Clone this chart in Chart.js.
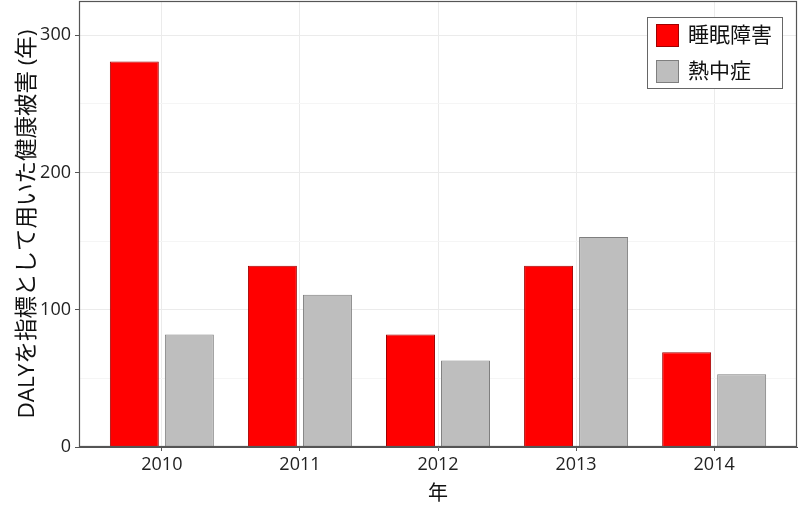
<!DOCTYPE html>
<html>
<head>
<meta charset="utf-8">
<script src="https://cdn.jsdelivr.net/npm/chart.js@4"></script>
<style>
	html, body { margin: 0; padding: 0; background: #ffffff; }
	#wrap { width: 800px; height: 514px; }
</style>
</head>
<body>
<div id="wrap"><canvas id="dalyChart" width="800" height="514"></canvas></div>
<script>
var years = [2010, 2011, 2012, 2013, 2014];
var sleepValues = [281, 132, 82, 132, 69];
var heatValues = [82, 111, 63, 153, 53];
var seriesNames = ["睡眠障害", "熱中症"];
var yTicks = [0, 100, 200, 300];

var FONT = "'Open Sans', 'Noto Sans CJK JP', sans-serif";

function toPoints(values) {
	return years.map(function (year, i) {
		return { x: year, y: values[i] };
	});
}

// frame round the plot panel
var panelBorder = {
	id: "panelBorder",
	afterDraw: function (chart) {
		var a = chart.chartArea;
		var ctx = chart.ctx;
		ctx.save();
		ctx.strokeStyle = "#555555";
		ctx.lineWidth = 1.2;
		ctx.strokeRect(a.left + 0.5, a.top + 0.5, a.right - a.left - 1, a.bottom - a.top - 1);
		ctx.restore();
	}
};

// legend box in the top right corner of the panel
var insideLegend = {
	id: "insideLegend",
	afterDraw: function (chart) {
		var a = chart.chartArea;
		var ctx = chart.ctx;
		var x = a.right - 150, y = a.top + 16, w = 135, h = 71;
		ctx.save();
		ctx.fillStyle = "#ffffff";
		ctx.fillRect(x, y, w, h);
		ctx.strokeStyle = "#666666";
		ctx.lineWidth = 1;
		ctx.strokeRect(x + 0.5, y + 0.5, w, h);
		ctx.font = "21px " + FONT;
		ctx.textBaseline = "middle";
		chart.data.datasets.forEach(function (ds, i) {
			var ky = y + 7 + i * 36;
			ctx.fillStyle = ds.backgroundColor;
			ctx.fillRect(x + 9, ky, 23, 23);
			ctx.strokeStyle = ds.borderColor;
			ctx.strokeRect(x + 9.5, ky + 0.5, 22, 22);
			ctx.fillStyle = "#111111";
			ctx.fillText(ds.label, x + 41, ky + 12);
		});
		ctx.restore();
	}
};

var chartConfig = {
	type: "bar",
	data: {
		datasets: [
			{
				label: seriesNames[0],
				data: toPoints(sleepValues),
				backgroundColor: "#ff0000",
				borderColor: "#a00000",
				borderWidth: 1,
				categoryPercentage: 0.797,
				barPercentage: 0.89,
			},
			{
				label: seriesNames[1],
				data: toPoints(heatValues),
				backgroundColor: "#bebebe",
				borderColor: "#7f7f7f",
				borderWidth: 1,
				categoryPercentage: 0.797,
				barPercentage: 0.89,
			},
		],
	},
	options: {
		responsive: false,
		animation: false,
		layout: { padding: { top: 1, right: 3, left: 0, bottom: 0 } },
		plugins: {
			legend: { display: false },
			tooltip: { enabled: false },
		},
		scales: {
			x: {
				type: "linear",
				offset: false,
				min: 2009.4,
				max: 2014.6,
				afterBuildTicks: function (scale) {
					scale.ticks = years.map(function (v) { return { value: v }; });
				},
				afterFit: function (scale) {
					scale.height = 67;
					scale.paddingLeft = 0;
					scale.paddingRight = 0;
				},
				ticks: {
					color: "#222222",
					font: { family: FONT, size: 18 },
					padding: 3,
					maxRotation: 0,
					callback: function (v) { return String(v); },
				},
				grid: {
					offset: false,
					color: "#ebebeb",
					tickColor: "#555555",
					tickLength: 4,
				},
				border: { color: "#555555" },
				title: {
					display: true,
					text: "年",
					color: "#111111",
					font: { family: FONT, size: 20 },
					padding: { top: 8, bottom: 8 },
				},
			},
			y: {
				min: 0,
				max: 325,
				afterBuildTicks: function (scale) {
					scale.ticks = [0, 50, 100, 150, 200, 250, 300].map(function (v) { return { value: v }; });
				},
				afterFit: function (scale) {
					scale.width = 79;
					scale.paddingTop = 0;
					scale.paddingBottom = 0;
				},
				ticks: {
					color: "#222222",
					font: { family: FONT, size: 18 },
					padding: 4,
					callback: function (v) { return yTicks.indexOf(v) >= 0 ? String(v) : ""; },
				},
				grid: {
					color: function (c) { return c.tick && c.tick.value % 100 === 0 ? "#ebebeb" : "#f5f5f5"; },
					tickColor: function (c) { return c.tick && c.tick.value % 100 === 0 ? "#555555" : "rgba(0,0,0,0)"; },
					tickLength: 4,
				},
				border: { color: "#555555" },
				title: {
					display: true,
					text: "DALYを指標として用いた健康被害 (年)",
					color: "#111111",
					font: { family: FONT, size: 22.5 },
					padding: { top: 14, bottom: 2 },
				},
			},
		},
	},
	plugins: [panelBorder, insideLegend],
};

new Chart(document.getElementById("dalyChart"), chartConfig);
</script>
</body>
</html>
